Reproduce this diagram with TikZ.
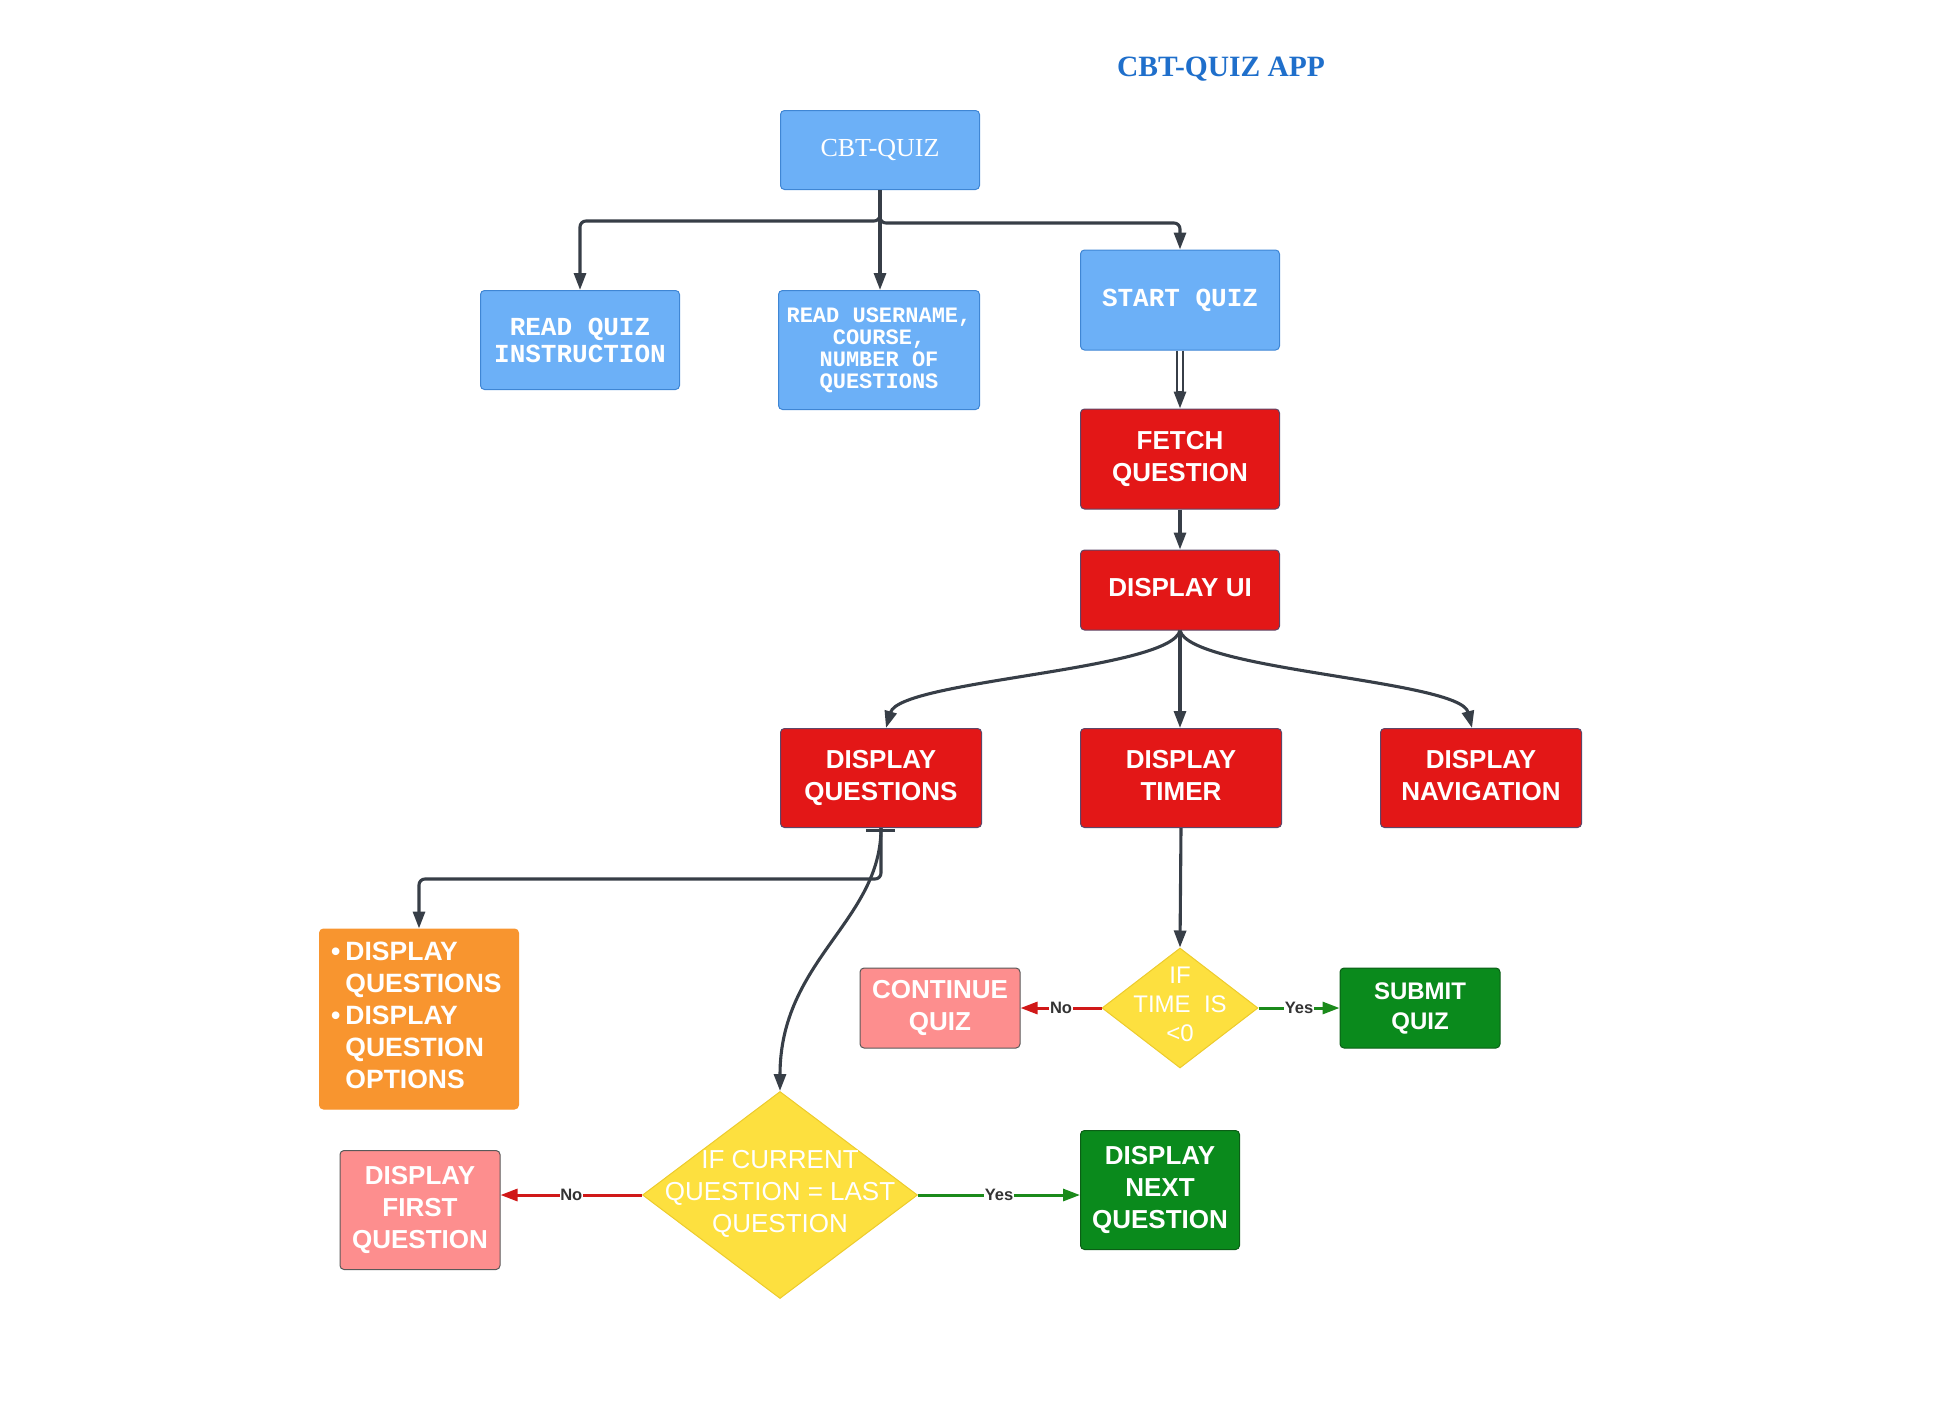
\documentclass[tikz,border=0pt]{standalone}
\usepackage{fontspec}
\setmainfont{Liberation Sans}
\newfontfamily\monof{Liberation Mono}
\newfontfamily\seriff{Liberation Serif}
\usetikzlibrary{arrows.meta,shapes.geometric}

\definecolor{titleC}{HTML}{1F6FCB}
\definecolor{blueF}{HTML}{6CB0F7}
\definecolor{blueD}{HTML}{3F86D4}
\definecolor{redF}{HTML}{E31717}
\definecolor{redD}{HTML}{5E4668}
\definecolor{orangeF}{HTML}{F8952F}
\definecolor{pinkF}{HTML}{FD8E8E}
\definecolor{greenF}{HTML}{0A8A1C}
\definecolor{greenD}{HTML}{0B5E16}
\definecolor{yellowF}{HTML}{FDE03F}
\definecolor{yellowD}{HTML}{EDCB2C}
\definecolor{lineC}{HTML}{373E47}
\definecolor{noC}{HTML}{D01818}
\definecolor{yesC}{HTML}{1B8A1B}

\tikzset{
  box/.style={rectangle, rounded corners=4pt, line width=1pt, align=center,
    text=white, inner sep=2pt},
  bluebox/.style={box, fill=blueF, draw=blueD},
  % every last line gets the same depth so the labels sit alike
  evendepth/.style={execute at end node={\vphantom{Q}}},
  redbox/.style={box, evendepth, fill=redF, draw=redD, font=\bfseries\fontsize{26}{32}\selectfont,
    minimum width=201pt, minimum height=99pt},
  pinkbox/.style={box, evendepth, fill=pinkF, draw=black!65, font=\bfseries\fontsize{26}{32}\selectfont},
  greenbox/.style={box, evendepth, fill=greenF, draw=greenD, font=\bfseries\fontsize{26}{32}\selectfont},
  decision/.style={diamond, fill=yellowF, draw=yellowD, line width=1pt, inner sep=0pt},
  dtext/.style={text=white, align=center},
  tip/.style={-{Triangle[length=17pt,width=12pt]}},
  conn/.style={draw=lineC, line width=3.1pt, tip},
  noline/.style={draw=noC, line width=3pt, tip},
  yesline/.style={draw=yesC, line width=3pt, tip},
  tag/.style={fill=white, inner sep=0.6pt, text=black!80, font=\bfseries\fontsize{16.5}{17}\selectfont}
}

\begin{document}
\begin{tikzpicture}[x=1pt, y=-1pt]
\useasboundingbox (0,0) rectangle (1951,1400);

% title
\node[text=titleC, font=\seriff\bfseries\fontsize{29.5}{32}\selectfont] (title) at (1221,69) {CBT-QUIZ APP};

% top level
\node[bluebox, minimum width=199pt, minimum height=79pt,
      font=\seriff\fontsize{26}{30}\selectfont] (cbt) at (880,150) {CBT-QUIZ};
\node[bluebox, minimum width=199pt, minimum height=99pt,
      font=\monof\bfseries\fontsize{26}{27}\selectfont] (rq) at (580,340) {READ QUIZ\\INSTRUCTION};
\node[bluebox, minimum width=201pt, minimum height=119pt,
      font=\monof\bfseries\fontsize{22}{22}\selectfont] (ru) at (879,350) {READ USERNAME,\\COURSE,\\NUMBER OF\\QUESTIONS};
\node[bluebox, minimum width=199pt, minimum height=100pt,
      font=\monof\bfseries\fontsize{26}{30}\selectfont] (sq) at (1180,300) {START QUIZ};

% fetch and display
\node[redbox, minimum width=199pt, minimum height=100pt] (fq) at (1180,459) {FETCH\\QUESTION};
\node[redbox, minimum width=199pt, minimum height=80pt] (ui) at (1180,590) {DISPLAY UI};
\node[redbox] (dq) at (881,778) {DISPLAY\\QUESTIONS};
\node[redbox] (dt) at (1181,778) {DISPLAY\\TIMER};
\node[redbox] (dn) at (1481,778) {DISPLAY\\NAVIGATION};

% question list box
\node[box, fill=orangeF, draw=orangeF, minimum width=199pt, minimum height=180pt] (ob) at (419,1019) {};
\node[anchor=west, text=white, inner sep=0pt, font=\bfseries\fontsize{26.5}{32}\selectfont] (obt) at (331,1018)
  {\begin{tabular}{@{}l@{\hspace{5pt}}l@{}}
   \textbullet & DISPLAY\\ & QUESTIONS\\ \textbullet & DISPLAY\\ & QUESTION\\ & OPTIONS
   \end{tabular}};

% timer decision
\node[decision, minimum width=156pt, minimum height=120pt] (td) at (1180,1008) {};
\node[dtext, font=\fontsize{24}{29}\selectfont] (tdt) at (1180,1004) {IF\\TIME\ \ IS\\<0};
\node[pinkbox, minimum width=160pt, minimum height=80pt] (cq) at (940,1008) {CONTINUE\\QUIZ};
\node[greenbox, minimum width=160pt, minimum height=80pt, font=\bfseries\fontsize{24}{30}\selectfont] (sb) at (1420,1008) {SUBMIT\\QUIZ};

% last question decision
\node[decision, minimum width=275pt, minimum height=207pt] (cur) at (780,1195) {};
\node[dtext, font=\fontsize{26}{32}\selectfont] (curt) at (780,1194) {IF CURRENT\\QUESTION = LAST\\QUESTION};
\node[pinkbox, minimum width=160pt, minimum height=119pt] (ff) at (420,1210) {DISPLAY\\FIRST\\QUESTION};
\node[greenbox, minimum width=159pt, minimum height=119pt] (nx) at (1160,1190) {DISPLAY\\NEXT\\QUESTION};

% connectors from the start box
\draw[conn, rounded corners=6pt] (cbt.south) -- ([yshift=-31pt]cbt.south) -| (rq.north);
\draw[conn] (cbt.south) -- (cbt.south |- ru.north);
\draw[conn, rounded corners=6pt] (cbt.south) -- ([yshift=-33pt]cbt.south) -| (sq.north);

% doubled link start -> fetch
\draw[draw=lineC, line width=2.6pt] ([xshift=-3pt]sq.south) -- ([xshift=-3pt,yshift=14pt]fq.north);
\draw[draw=lineC, line width=2.6pt] ([xshift=3pt]sq.south) -- ([xshift=3pt,yshift=14pt]fq.north);
\draw[conn] ([yshift=18pt]fq.north) -- (fq.north);

\draw[conn] (fq.south) -- (ui.north);

% display UI fan-out
\draw[conn] (ui.south) .. controls +(-10,40) and +(14,-48) .. ([xshift=5pt]dq.north);
\draw[conn] (ui.south) -- (ui.south |- dt.north);
\draw[conn] (ui.south) .. controls +(10,40) and +(-12,-48) .. ([xshift=-9pt]dn.north);

% display questions branches
\draw[draw=lineC, line width=3pt] ([xshift=-15pt,yshift=-2pt]dq.south) -- ([xshift=14pt,yshift=-2pt]dq.south);
\draw[conn, rounded corners=6pt] (dq.south) -- ([yshift=-51pt]dq.south) -| (ob.north);
\draw[conn] (dq.south) .. controls +(0,93) and +(0,-131) .. (cur.north);

% timer branch
\draw[conn] (dt.south) -- (td.north);
\draw[noline] (td.west) -- (cq.east) node[tag, midway] (tno) {No};
\draw[yesline] (td.east) -- (sb.west) node[tag, midway] (tyes) {Yes};

% last-question branch
\draw[noline] (cur.west) -- (ff.east |- cur.west) node[tag, midway] (cno) {No};
\draw[yesline] (cur.east) -- (nx.west |- cur.east) node[tag, midway] (cyes) {Yes};
\end{tikzpicture}
\end{document}
